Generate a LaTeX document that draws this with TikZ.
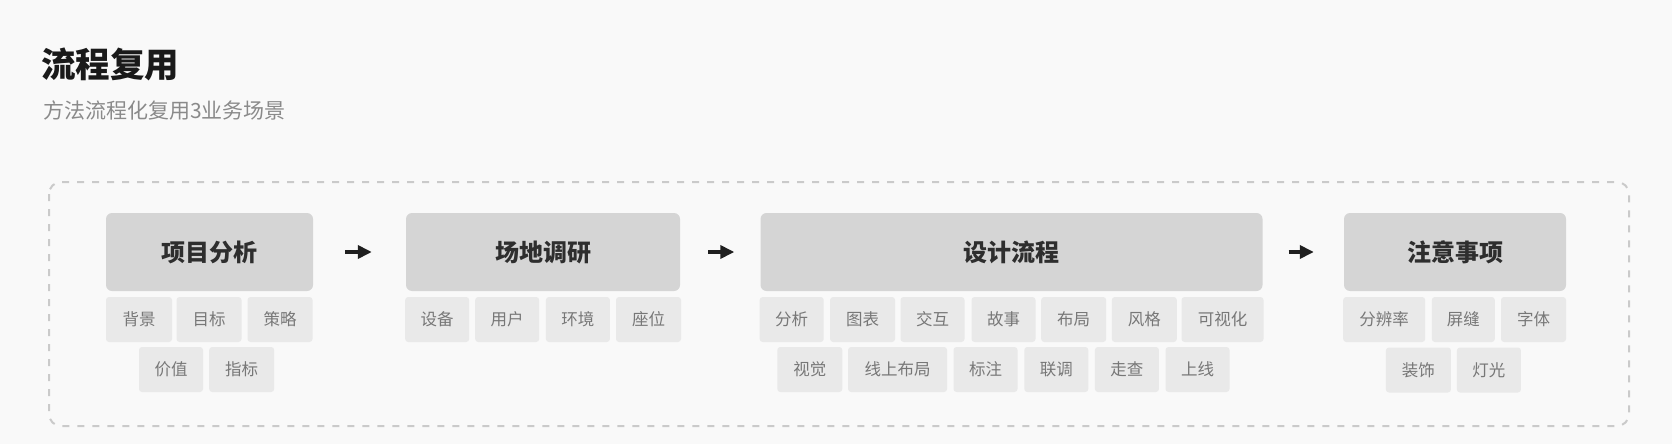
\documentclass[tikz,border=0pt]{standalone}
\usepackage{fontspec}
\setmainfont{Noto Sans CJK SC}
\usetikzlibrary{arrows.meta}
\definecolor{bg}{HTML}{F9F9F9}
\definecolor{mainfill}{HTML}{D5D5D5}
\definecolor{subfill}{HTML}{E9E9E9}
\definecolor{maintext}{HTML}{2E2E2E}
\definecolor{subtext}{HTML}{777777}
\definecolor{dashcol}{HTML}{CACACA}
\definecolor{titlecol}{HTML}{1A1A1A}
\definecolor{subtitlecol}{HTML}{8A8A8A}
\tikzset{
  mainbox/.style={fill=mainfill, rounded corners=6pt, inner sep=0pt, minimum height=78pt,
    font=\fontsize{24}{28}\selectfont\bfseries, text=maintext},
  subbox/.style={fill=subfill, rounded corners=3pt, inner sep=0pt, minimum height=45pt,
    font=\fontsize{16.5}{20}\selectfont, text=subtext},
  flowarrow/.style={line width=4pt, draw=black!88, -{Triangle[length=14pt,width=13pt]}},
}
\begin{document}
\begin{tikzpicture}[x=1pt,y=-1pt]
\fill[bg] (0,0) rectangle (1672,444);
\useasboundingbox (0,0) rectangle (1672,444);

\node[anchor=west, inner sep=0pt, text=titlecol, font=\fontsize{34.5}{40}\selectfont\bfseries] (title) at (41,64) {流程复用};
\node[anchor=west, inner sep=0pt, text=subtitlecol, font=\fontsize{21}{25}\selectfont] (subtitle) at (43,111) {方法流程化复用3业务场景};

\draw[dashcol, line width=2pt, dash pattern=on 7pt off 8pt, rounded corners=12pt] (49,182) rectangle (1629,426);

% Box 1
\node[mainbox, minimum width=207pt] (b1) at (209.5,252) {项目分析};
\node[subbox, minimum width=66pt] (b1s1) at (139,319.5) {背景};
\node[subbox, minimum width=65pt] (b1s2) at (209,319.5) {目标};
\node[subbox, minimum width=65pt] (b1s3) at (280,319.5) {策略};
\node[subbox, minimum width=64pt] (b1s4) at (171,369.5) {价值};
\node[subbox, minimum width=65pt] (b1s5) at (241.7,369.5) {指标};

% Box 2
\node[mainbox, minimum width=274pt] (b2) at (543,252) {场地调研};
\node[subbox, minimum width=64pt] (b2s1) at (437.2,319.5) {设备};
\node[subbox, minimum width=64pt] (b2s2) at (507.2,319.5) {用户};
\node[subbox, minimum width=64pt] (b2s3) at (577.9,319.5) {环境};
\node[subbox, minimum width=65pt] (b2s4) at (648.5,319.5) {座位};

% Box 3
\node[mainbox, minimum width=502pt] (b3) at (1011.5,252) {设计流程};
\node[subbox, minimum width=64pt] (b3s1) at (791.7,319.5) {分析};
\node[subbox, minimum width=65pt] (b3s2) at (862.6,319.5) {图表};
\node[subbox, minimum width=64pt] (b3s3) at (932.5,319.5) {交互};
\node[subbox, minimum width=64pt] (b3s4) at (1003.5,319.5) {故事};
\node[subbox, minimum width=65pt] (b3s5) at (1073.7,319.5) {布局};
\node[subbox, minimum width=65pt] (b3s6) at (1144.3,319.5) {风格};
\node[subbox, minimum width=82pt] (b3s7) at (1222.5,319.5) {可视化};
\node[subbox, minimum width=65pt] (b3s8) at (809.8,369.5) {视觉};
\node[subbox, minimum width=99pt] (b3s9) at (897.6,369.5) {线上布局};
\node[subbox, minimum width=64pt] (b3s10) at (985.5,369.5) {标注};
\node[subbox, minimum width=64pt] (b3s11) at (1056.3,369.5) {联调};
\node[subbox, minimum width=64pt] (b3s12) at (1126.9,369.5) {走查};
\node[subbox, minimum width=64pt] (b3s13) at (1197.5,369.5) {上线};

% Box 4
\node[mainbox, minimum width=222pt] (b4) at (1455,252) {注意事项};
\node[subbox, minimum width=82pt] (b4s1) at (1384.2,319.5) {分辨率};
\node[subbox, minimum width=63pt] (b4s2) at (1463.3,319.5) {屏缝};
\node[subbox, minimum width=65pt] (b4s3) at (1533.5,319.5) {字体};
\node[subbox, minimum width=65pt] (b4s4) at (1418.4,370) {装饰};
\node[subbox, minimum width=64pt] (b4s5) at (1488.9,370) {灯光};

% Arrows
\draw[flowarrow] ([xshift=32pt]b1.east) -- ([xshift=-34pt]b2.west);
\draw[flowarrow] ([xshift=28pt]b2.east) -- ([xshift=-26pt]b3.west);
\draw[flowarrow] ([xshift=26pt]b3.east) -- ([xshift=-30pt]b4.west);
\end{tikzpicture}
\end{document}
